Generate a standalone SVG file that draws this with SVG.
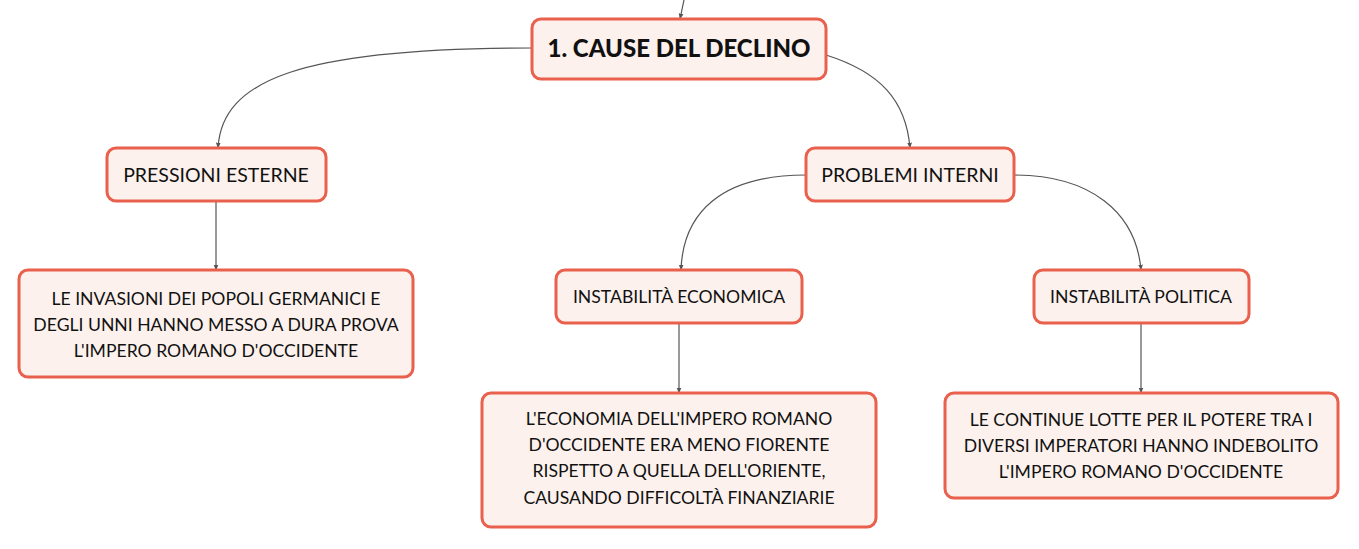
<svg xmlns="http://www.w3.org/2000/svg" width="1359" height="549" viewBox="0 0 1359 549">
<defs>
<marker id="arr" viewBox="0 0 10 10" refX="9" refY="5" markerWidth="5" markerHeight="5" orient="auto-start-reverse">
<path d="M0,1 L10,5 L0,9 z" fill="#555"/>
</marker>
<style>
.node rect{fill:#fdf1ed;stroke:#e9604d;stroke-width:3}
.node text{font-family:Lato,"Noto Sans",sans-serif;fill:#111;text-anchor:middle}
.t1{font-size:19.5px}
.t2{font-size:17.6px}
.root{font-size:24px;font-weight:900}
.conn path{fill:none;stroke:#555;stroke-width:1.2;marker-end:url(#arr)}
</style>
</defs>
<rect width="1359" height="549" fill="#fff"/>
<g id="connectors" class="conn">
<path d="M684,0 L680,19"/>
<path d="M532,48 C300,48 222,80 218,148"/>
<path d="M826,55 C880,72 906,100 910,148"/>
<path d="M216,201 L216,270"/>
<path d="M806,175 C722,175 683,212 681,270"/>
<path d="M1014,175 C1090,175 1136,212 1141,270"/>
<path d="M679,323 L679,393"/>
<path d="M1141,323 L1141,393"/>
</g>
<g id="n-root" class="node">
<rect x="532" y="19" width="294" height="60" rx="9"/>
<text class="root" x="679" y="57">1. CAUSE DEL DECLINO</text>
</g>
<g id="n-pressioni" class="node">
<rect x="107" y="148" width="219" height="53" rx="9"/>
<text class="t1" x="216" y="182">PRESSIONI ESTERNE</text>
</g>
<g id="n-problemi" class="node">
<rect x="806" y="148" width="208" height="53" rx="9"/>
<text class="t1" x="910" y="182">PROBLEMI INTERNI</text>
</g>
<g id="n-invasioni" class="node">
<rect x="19" y="270" width="394" height="107" rx="9"/>
<text class="t2" x="216" y="305">LE INVASIONI DEI POPOLI GERMANICI E</text>
<text class="t2" x="216" y="331">DEGLI UNNI HANNO MESSO A DURA PROVA</text>
<text class="t2" x="216" y="357">L'IMPERO ROMANO D'OCCIDENTE</text>
</g>
<g id="n-econ" class="node">
<rect x="556" y="270" width="246" height="53" rx="9"/>
<text class="t2" x="679" y="303">INSTABILITÀ ECONOMICA</text>
</g>
<g id="n-pol" class="node">
<rect x="1034" y="270" width="215" height="53" rx="9"/>
<text class="t2" x="1141" y="303">INSTABILITÀ POLITICA</text>
</g>
<g id="n-economia" class="node">
<rect x="482" y="393" width="394" height="134" rx="9"/>
<text class="t2" x="679" y="425">L'ECONOMIA DELL'IMPERO ROMANO</text>
<text class="t2" x="679" y="451">D'OCCIDENTE ERA MENO FIORENTE</text>
<text class="t2" x="679" y="477">RISPETTO A QUELLA DELL'ORIENTE,</text>
<text class="t2" x="679" y="504">CAUSANDO DIFFICOLTÀ FINANZIARIE</text>
</g>
<g id="n-lotte" class="node">
<rect x="945" y="393" width="393" height="105" rx="9"/>
<text class="t2" x="1141" y="426">LE CONTINUE LOTTE PER IL POTERE TRA I</text>
<text class="t2" x="1141" y="452">DIVERSI IMPERATORI HANNO INDEBOLITO</text>
<text class="t2" x="1141" y="478">L'IMPERO ROMANO D'OCCIDENTE</text>
</g>
</svg>
